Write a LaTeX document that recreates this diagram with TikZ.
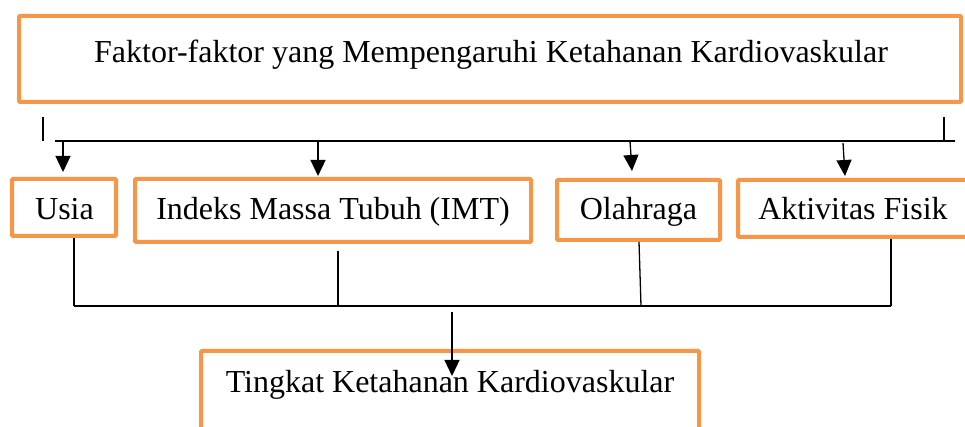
\documentclass[tikz,border=0pt]{standalone}
\usepackage{fontspec}
\setmainfont{Liberation Serif}
\usetikzlibrary{arrows.meta}
\definecolor{boxorange}{HTML}{F79646}
\begin{document}
\begin{tikzpicture}[x=1pt,y=1pt,
  box/.style={draw=boxorange, line width=4pt, rounded corners=1pt, inner sep=0pt, fill=none},
  txt/.style={font=\fontsize{32}{38}\selectfont, anchor=base, inner sep=0pt},
  conn/.style={line width=1.3pt, black},
  arr/.style={conn, -{Triangle[width=15pt,length=16pt]}}]
\useasboundingbox (0,0) rectangle (965,427);
% boxes
\node[box, minimum width=942pt, minimum height=86pt] (top) at (490,368) {};
\node[box, minimum width=104pt, minimum height=57pt] (usia) at (64,219.5) {};
\node[box, minimum width=396pt, minimum height=63pt] (imt) at (333,216.5) {};
\node[box, minimum width=163pt, minimum height=60pt] (olah) at (638.5,217) {};
\node[box, minimum width=235pt, minimum height=57pt] (akt) at (855.5,218.5) {};
\node[box, minimum width=498pt, minimum height=97pt] (bot) at (450,27.5) {};
% texts
\node[txt] (toptxt) at (491,364) {Faktor-faktor yang Mempengaruhi Ketahanan Kardiovaskular};
\node[txt] (usiatxt) at (64.5,207) {Usia};
\node[txt] (imttxt) at (333,207) {Indeks Massa Tubuh (IMT)};
\node[txt] (olahtxt) at (638.5,207) {Olahraga};
\node[txt] (akttxt) at (853,207) {Aktivitas Fisik};
\node[txt] (bottxt) at (450,34) {Tingkat Ketahanan Kardiovaskular};
% upper distribution line
\coordinate (tl1) at (43,310);
\coordinate (tl2) at (43,286);
\coordinate (tr1) at (944,310);
\coordinate (tr2) at (944,286);
\coordinate (hl) at (55,286);
\coordinate (hr) at (955,286);
\draw[conn] (tl1) -- (tl2);
\draw[conn] (tr1) -- (tr2);
\draw[conn] (hl) -- (hr);
\coordinate (a1) at (63,286);
\coordinate (a2) at (318,286);
\coordinate (a3) at (630,286);
\coordinate (a4) at (843,284);
\draw[arr] (a1) -- (63,255);
\draw[arr] (a2) -- (318,251);
\draw[arr] (a3) -- (632,256);
\draw[arr] (a4) -- (845,251);
% lower collecting line
\coordinate (b1) at (74,121);
\coordinate (b2) at (338,121);
\coordinate (b3) at (641,121);
\coordinate (b4) at (891,121);
\draw[conn] (usia.south -| b1) -- (b1);
\draw[conn] (338,176) -- (b2);
\draw[conn] (639,185) -- (b3);
\draw[conn] (akt.south -| b4) -- (b4);
\draw[conn] (b1) -- (b4);
\coordinate (c1) at (452,115);
\draw[arr] (c1) -- (452,51);
\end{tikzpicture}
\end{document}
